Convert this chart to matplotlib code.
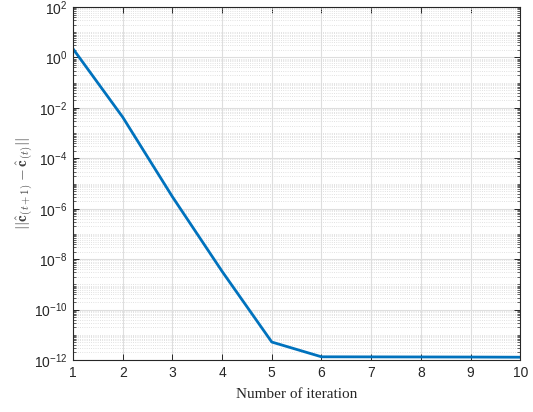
import numpy as np
import matplotlib
matplotlib.use('Agg')
import matplotlib.pyplot as plt
from matplotlib.ticker import LogLocator, FixedLocator, NullFormatter

# iteration vs. change in estimate
iterations = [1, 2, 3, 4, 5, 6, 7, 8, 9, 10]
diff_norm = [2.2, 4.3e-3, 3.0e-6, 3.3e-9, 5.2e-12, 1.35e-12, 1.34e-12, 1.33e-12, 1.32e-12, 1.3e-12]

plt.rcParams['font.family'] = ['Liberation Sans', 'DejaVu Sans']
plt.rcParams['mathtext.fontset'] = 'custom'
plt.rcParams['mathtext.rm'] = 'Liberation Sans'
plt.rcParams['mathtext.it'] = 'Liberation Sans:italic'
plt.rcParams['axes.unicode_minus'] = False

fig = plt.figure(figsize=(5.33, 4.12), dpi=100)
ax = fig.add_axes([0.137, 0.126, 0.839, 0.857])

ax.semilogy(iterations, diff_norm, color='#0072BD', lw=2)

ax.set_xlim(1, 10)
ax.set_ylim(1e-12, 1e2)
ax.set_xticks(range(1, 11))
ax.yaxis.set_major_locator(FixedLocator([10.0 ** k for k in range(-12, 3, 2)]))
ax.yaxis.set_minor_locator(LogLocator(base=10, subs=np.arange(1, 10), numticks=50))
ax.yaxis.set_minor_formatter(NullFormatter())

ax.grid(True, which='major', color='#dedede', lw=0.8, ls='-')
ax.grid(True, which='minor', axis='y', color='#d8d8d8', lw=0.6, ls=':')
ax.set_axisbelow(True)

ax.tick_params(which='both', direction='in', top=True, right=True,
               labelsize=10, colors='#262626', pad=4)
ax.tick_params(which='major', length=4, width=0.7)
ax.tick_params(which='minor', length=2, width=0.5)
for s in ax.spines.values():
    s.set_color('#262626')
    s.set_linewidth(0.8)

ax.set_xlabel('Number of iteration', family='Liberation Serif', fontsize=11,
              color='#262626', va='center')
ax.xaxis.set_label_coords(0.5, -0.097)
ax.set_ylabel(r'$||\hat{\mathbf{c}}_{(t+1)}-\hat{\mathbf{c}}_{(t)}||$', fontsize=11,
              color='#404040', math_fontfamily='cm', va='center')
ax.yaxis.set_label_coords(-0.107, 0.5)

fig.savefig('out.png', dpi=100)
